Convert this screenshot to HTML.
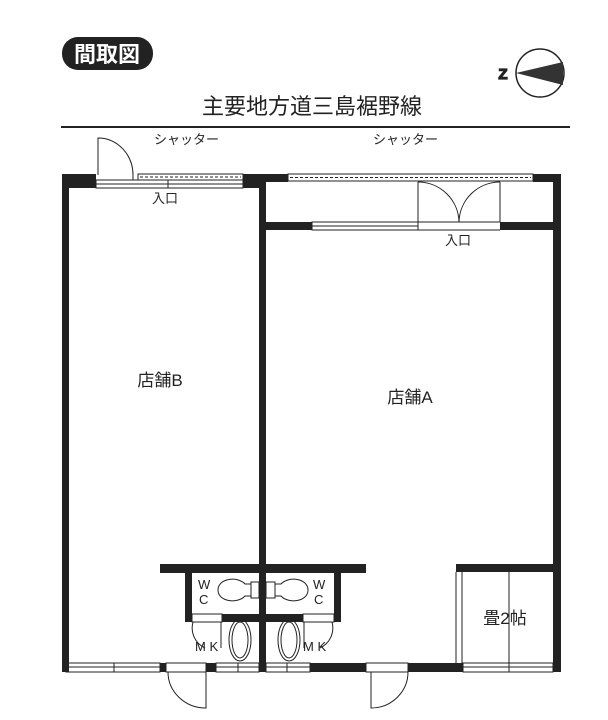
<!DOCTYPE html>
<html><head><meta charset="utf-8"><style>
html,body{margin:0;padding:0;background:#fff;}
svg{display:block;}
text{font-family:"Liberation Sans","Noto Sans CJK JP",sans-serif;fill:#222;}
</style></head><body>
<svg width="608" height="720" viewBox="0 0 608 720" xmlns="http://www.w3.org/2000/svg">
<rect x="62" y="37" width="91" height="33" rx="16" fill="#222"/>
<text x="107" y="62" font-size="22" font-weight="bold" text-anchor="middle" style="fill:#fff">間取図</text>
<circle cx="540" cy="73" r="24" fill="#fff" stroke="#222" stroke-width="1.5"/>
<polygon points="516,73 563,62 563,85" fill="#333"/>
<text x="503" y="79" font-size="15" font-weight="bold" text-anchor="middle" stroke="#222" stroke-width="1.2">Z</text>
<text x="312" y="114" font-size="22" text-anchor="middle">主要地方道三島裾野線</text>
<line x1="61" y1="127" x2="570" y2="127" stroke="#222" stroke-width="2"/>
<g fill="#222">
<rect x="62" y="174" width="7" height="498"/>
<rect x="62" y="174" width="34" height="14"/>
<rect x="243" y="174" width="23" height="14"/>
<rect x="259" y="174" width="7" height="498"/>
<rect x="266" y="174" width="22" height="8"/>
<rect x="533" y="174" width="28" height="8"/>
<rect x="553" y="174" width="8" height="498"/>
<rect x="266" y="222" width="46" height="8"/>
<rect x="500" y="222" width="61" height="8"/>
<rect x="62" y="663" width="4" height="9"/>
<rect x="160" y="663" width="6" height="9"/>
<rect x="206" y="663" width="10" height="9"/>
<rect x="310" y="663" width="56" height="9"/>
<rect x="408" y="663" width="55" height="9"/>
<rect x="160" y="564" width="206" height="9"/>
<rect x="185" y="573" width="7" height="49"/>
<rect x="334" y="573" width="7" height="49"/>
<rect x="222" y="614" width="81" height="8"/>
<rect x="456" y="564" width="99" height="8"/>
</g>
<g fill="none" stroke="#222" stroke-width="1">
<rect x="96" y="180" width="147" height="8"/>
<rect x="138" y="174" width="105" height="6"/>
<line x1="140" y1="177" x2="241" y2="177" stroke-dasharray="3,2"/>
<rect x="288" y="174" width="245" height="7"/>
<line x1="290" y1="177.5" x2="531" y2="177.5" stroke-dasharray="3,2"/>
<line x1="96" y1="184" x2="243" y2="184"/>
<line x1="168" y1="180" x2="168" y2="188"/>
<path d="M98,175 L98,138 A35,37 0 0 1 133,175"/>
<line x1="133" y1="175" x2="133" y2="180"/>
<line x1="418" y1="182" x2="418" y2="222"/>
<line x1="500" y1="182" x2="500" y2="222"/>
<path d="M418,182 A41,41 0 0 1 459,222"/>
<path d="M500,182 A41,41 0 0 0 459,222"/>
<rect x="312" y="222" width="106" height="8"/>
<line x1="312" y1="226" x2="418" y2="226"/>
<line x1="418" y1="222" x2="500" y2="222"/>
<line x1="418" y1="230" x2="500" y2="230"/>
<rect x="66" y="663" width="94" height="9"/>
<line x1="66" y1="667" x2="160" y2="667"/>
<line x1="114" y1="663" x2="114" y2="672"/>
<rect x="166" y="663" width="40" height="9"/>
<rect x="216" y="663" width="43" height="9"/>
<line x1="216" y1="667" x2="259" y2="667"/>
<line x1="238" y1="663" x2="238" y2="672"/>
<rect x="266" y="663" width="44" height="9"/>
<line x1="266" y1="667" x2="310" y2="667"/>
<line x1="287" y1="663" x2="287" y2="672"/>
<rect x="366" y="663" width="42" height="9"/>
<rect x="463" y="663" width="90" height="9"/>
<line x1="463" y1="667" x2="553" y2="667"/>
<line x1="509" y1="663" x2="509" y2="672"/>
<path d="M206,672 L206,708 A38,36 0 0 1 168,672"/>
<path d="M371,672 L371,708 A37,36 0 0 0 408,672"/>
<line x1="456" y1="572" x2="456" y2="663"/>
<line x1="462" y1="572" x2="462" y2="663"/>
<line x1="509" y1="572" x2="509" y2="663"/>
<rect x="192" y="614" width="30" height="8"/>
<rect x="303" y="614" width="31" height="8"/>
<path d="M245,584 C238,576 218,578 218,590 C218,602 238,604 245,596 L251,596 L251,584 Z"/>
<rect x="251" y="582" width="8" height="16"/>
<path d="M281,584 C288,576 308,578 308,590 C308,602 288,604 281,596 L275,596 L275,584 Z"/>
<rect x="266" y="582" width="9" height="16"/>
<ellipse cx="240" cy="640" rx="11" ry="21"/>
<ellipse cx="240" cy="640" rx="8" ry="18"/>
<ellipse cx="289" cy="640" rx="11" ry="21"/>
<ellipse cx="289" cy="640" rx="8" ry="18"/>
<path d="M193,622 A22,22 0 0 0 205,648"/>
<line x1="221" y1="622" x2="221" y2="648"/>
<path d="M332,622 A22,22 0 0 1 320,648"/>
<line x1="304" y1="622" x2="304" y2="648"/>
</g>
<g font-size="13">
<text x="154" y="144">シャッター</text>
<text x="373" y="144">シャッター</text>
<text x="152" y="203">入口</text>
<text x="445" y="245">入口</text>
<text x="198" y="589" font-size="13">W</text>
<text x="199" y="604" font-size="13">C</text>
<text x="313" y="589" font-size="13">W</text>
<text x="314" y="604" font-size="13">C</text>
<text x="195" y="651" font-size="13">M K</text>
<text x="303" y="651" font-size="13">M K</text>
</g>
<text x="160" y="386" font-size="17" text-anchor="middle">店舗B</text>
<text x="410" y="403" font-size="17" text-anchor="middle">店舗A</text>
<text x="505" y="624" font-size="17" text-anchor="middle">畳2帖</text>
</svg>
</body></html>
